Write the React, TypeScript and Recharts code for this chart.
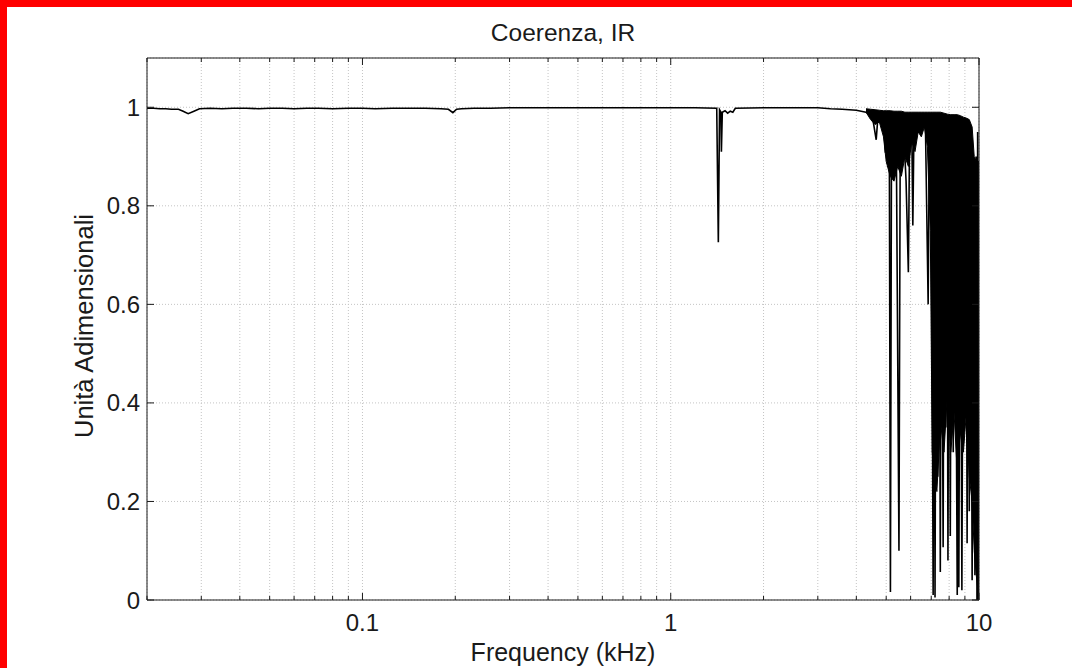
import React from 'react';
import { ComposedChart, Line, Area, XAxis, YAxis, CartesianGrid } from 'recharts';

const FONT = '"Liberation Sans", Arial, Helvetica, sans-serif';
const INK = '#1a1a1a';

// coherence trace, frequency in kHz
const freqKHz = [
  0.02, 0.021, 0.022, 0.023, 0.024, 0.0253, 0.0262, 0.0272, 0.0284, 0.0296, 0.032, 0.035, 0.038,
  0.042, 0.046, 0.05, 0.055, 0.06, 0.066, 0.072, 0.08, 0.09, 0.1, 0.11, 0.125, 0.14, 0.16, 0.18,
  0.19, 0.1965, 0.202, 0.21, 0.23, 0.26, 0.3, 0.4, 0.5, 0.7, 1.0, 1.2, 1.41, 1.427, 1.44, 1.455,
  1.46, 1.47, 1.5, 1.53, 1.56, 1.59, 1.62, 2, 3, 3.3, 3.6, 4.0, 4.3,
  4.5, 4.64, 4.7, 4.9, 4.97, 5.05, 5.12, 5.16, 5.2, 5.3, 5.4, 5.5, 5.55, 5.7, 5.8, 5.9, 5.95,
  6.05, 6.1, 6.15, 6.3, 6.5, 6.7, 6.84, 6.9, 7.0,
  7.1, 7.15, 7.2, 7.27, 7.35, 7.42, 7.49, 7.55, 7.65, 7.72, 7.8, 7.87, 7.93, 8.0, 8.07, 8.15,
  8.25, 8.35, 8.5, 8.55, 8.6, 8.7, 8.8, 8.9, 9.0, 9.08, 9.15, 9.22, 9.3, 9.4, 9.5, 9.6, 9.7,
  9.78, 9.85, 9.9, 9.95, 10,
];
const coherence = [
  0.998, 0.998, 0.997, 0.997, 0.996, 0.996, 0.992, 0.987, 0.992, 0.997, 0.998, 0.997, 0.998,
  0.998, 0.997, 0.998, 0.998, 0.997, 0.998, 0.998, 0.997, 0.998, 0.998, 0.997, 0.998, 0.998, 0.998, 0.997,
  0.996, 0.989, 0.996, 0.997, 0.998, 0.998, 0.999, 0.999, 0.999, 0.999, 0.999, 0.999, 0.998, 0.726, 0.995, 0.99,
  0.91, 0.99, 0.993, 0.988, 0.992, 0.99, 0.998, 0.999, 0.999, 0.997, 0.996, 0.994, 0.99,
  0.985, 0.934, 0.98, 0.97, 0.908, 0.96, 0.88, 0.016, 0.9, 0.95, 0.87, 0.1, 0.9, 0.95, 0.85, 0.665, 0.92,
  0.97, 0.76, 0.95, 0.97, 0.96, 0.97, 0.6, 0.93, 0.97,
  0.01, 0.95, 0.005, 0.9, 0.25, 0.95, 0.057, 0.9, 0.107, 0.95, 0.35, 0.95, 0.08, 0.9, 0.13, 0.95,
  0.3, 0.95, 0.01, 0.9, 0.026, 0.92, 0.02, 0.9, 0.45, 0.9, 0.115, 0.85, 0.18, 0.85, 0.04, 0.88, 0.05,
  0.9, 0.0, 0.95, 0.0, 0.0,
];

// dense noisy part above ~4 kHz, min/max envelope
const bandKHz = [
  4.3, 4.45, 4.6, 4.75, 4.9, 5.0, 5.15, 5.3, 5.45, 5.6, 5.75, 5.9, 6.05, 6.2, 6.35, 6.5, 6.65, 6.8, 6.95,
  7.05, 7.3, 7.5, 7.7, 7.9, 8.1, 8.3, 8.5, 8.7, 8.9, 9.1, 9.3, 9.5, 9.65, 9.8, 10,
];
const bandLow = [
  0.99, 0.975, 0.965, 0.97, 0.94, 0.89, 0.86, 0.85, 0.88, 0.86, 0.9, 0.88, 0.93, 0.91, 0.95, 0.94, 0.96, 0.92, 0.75,
  0.3, 0.22, 0.36, 0.3, 0.42, 0.3, 0.38, 0.26, 0.34, 0.3, 0.38, 0.25, 0.2, 0.1, 0.05, 0.0,
];
const bandHigh = [
  0.997, 0.996, 0.995, 0.994, 0.993, 0.993, 0.993, 0.992, 0.992, 0.992, 0.99, 0.99, 0.99, 0.99, 0.99, 0.99, 0.99, 0.99, 0.99,
  0.99, 0.99, 0.99, 0.988, 0.986, 0.985, 0.985, 0.985, 0.983, 0.98, 0.978, 0.975, 0.96, 0.9, 0.89, 0.89,
];

const xTicks = [
  0.02, 0.03, 0.04, 0.05, 0.06, 0.07, 0.08, 0.09, 0.1, 0.2, 0.3, 0.4, 0.5, 0.6, 0.7, 0.8, 0.9,
  1, 2, 3, 4, 5, 6, 7, 8, 9, 10,
];
const xLabels = [0.1, 1, 10];
const yTicks = [0, 0.2, 0.4, 0.6, 0.8, 1];

const traceData = freqKHz.map((f, i) => ({ f, c: coherence[i] }));
const bandData = bandKHz.map((f, i) => ({ f, range: [bandLow[i], bandHigh[i]] }));

const BottomTick = (props: any) => {
  const { x, y, payload } = props;
  const major = xLabels.includes(payload.value);
  return (
    <g>
      <line x1={x} x2={x} y1={y} y2={y - (major ? 7 : 4)} stroke={INK} />
      {major && (
        <text x={x} y={y + 31} textAnchor="middle" fontSize={24} fontFamily={FONT} fill={INK}>
          {payload.value}
        </text>
      )}
    </g>
  );
};

const TopTick = (props: any) => {
  const { x, y, payload } = props;
  const major = xLabels.includes(payload.value);
  return <line x1={x} x2={x} y1={y} y2={y + (major ? 7 : 4)} stroke={INK} />;
};

const LeftTick = (props: any) => {
  const { x, y, payload } = props;
  return (
    <g>
      <line x1={x} x2={x + 7} y1={y} y2={y} stroke={INK} />
      <text x={x - 7} y={y + 8.5} textAnchor="end" fontSize={24} fontFamily={FONT} fill={INK}>
        {payload.value}
      </text>
    </g>
  );
};

const RightTick = (props: any) => {
  const { x, y } = props;
  return <line x1={x} x2={x - 7} y1={y} y2={y} stroke={INK} />;
};

export default function App() {
  return (
    <div style={{ position: 'absolute', left: 0, top: 0, width: 1072, height: 668, background: '#fff' }}>
      <div style={{ position: 'absolute', left: 0, top: 0, width: 7, height: 668, background: '#ff0000' }} />
      <div style={{ position: 'absolute', left: 0, top: 0, width: 1072, height: 7, background: '#ff0000' }} />
      <ComposedChart
        width={1072}
        height={668}
        margin={{ top: 54, right: 89, bottom: 28, left: 87 }}
        style={{ position: 'absolute', left: 0, top: 0 }}
      >
        <CartesianGrid stroke="#c4c4c4" strokeDasharray="1 2" />
        <XAxis
          dataKey="f"
          type="number"
          scale="log"
          domain={[0.02, 10]}
          allowDataOverflow
          ticks={xTicks}
          interval={0}
          height={40}
          tickSize={0}
          tickMargin={0}
          tickLine={false}
          tick={<BottomTick />}
          axisLine={{ stroke: INK }}
        />
        <XAxis
          xAxisId="top"
          orientation="top"
          dataKey="f"
          type="number"
          scale="log"
          domain={[0.02, 10]}
          allowDataOverflow
          ticks={xTicks}
          interval={0}
          height={4}
          tickSize={0}
          tickMargin={0}
          tickLine={false}
          tick={<TopTick />}
          axisLine={{ stroke: INK }}
        />
        <YAxis
          type="number"
          domain={[0, 1.1]}
          allowDataOverflow
          ticks={yTicks}
          interval={0}
          width={60}
          tickSize={0}
          tickMargin={0}
          tickLine={false}
          tick={<LeftTick />}
          axisLine={{ stroke: INK }}
        />
        <YAxis
          yAxisId="right"
          orientation="right"
          type="number"
          domain={[0, 1.1]}
          allowDataOverflow
          ticks={yTicks}
          interval={0}
          width={4}
          tickSize={0}
          tickMargin={0}
          tickLine={false}
          tick={<RightTick />}
          axisLine={{ stroke: INK }}
        />
        <Area
          data={bandData}
          dataKey="range"
          type="linear"
          stroke="#000"
          strokeWidth={1}
          fill="#000"
          fillOpacity={1}
          isAnimationActive={false}
        />
        <Line
          data={traceData}
          dataKey="c"
          type="linear"
          stroke="#000"
          strokeWidth={1.6}
          dot={false}
          activeDot={false}
          isAnimationActive={false}
        />
      </ComposedChart>
      <svg width={1072} height={668} style={{ position: 'absolute', left: 0, top: 0, pointerEvents: 'none' }}>
        <text x={563} y={41} textAnchor="middle" fontSize={24.5} fontFamily={FONT} fill={INK}>
          Coerenza, IR
        </text>
        <text x={563} y={661} textAnchor="middle" fontSize={25} fontFamily={FONT} fill={INK}>
          Frequency (kHz)
        </text>
        <text
          x={0}
          y={0}
          transform="translate(93 326) rotate(-90)"
          textAnchor="middle"
          fontSize={25.5}
          fontFamily={FONT}
          fill={INK}
        >
          Unità Adimensionali
        </text>
      </svg>
    </div>
  );
}
